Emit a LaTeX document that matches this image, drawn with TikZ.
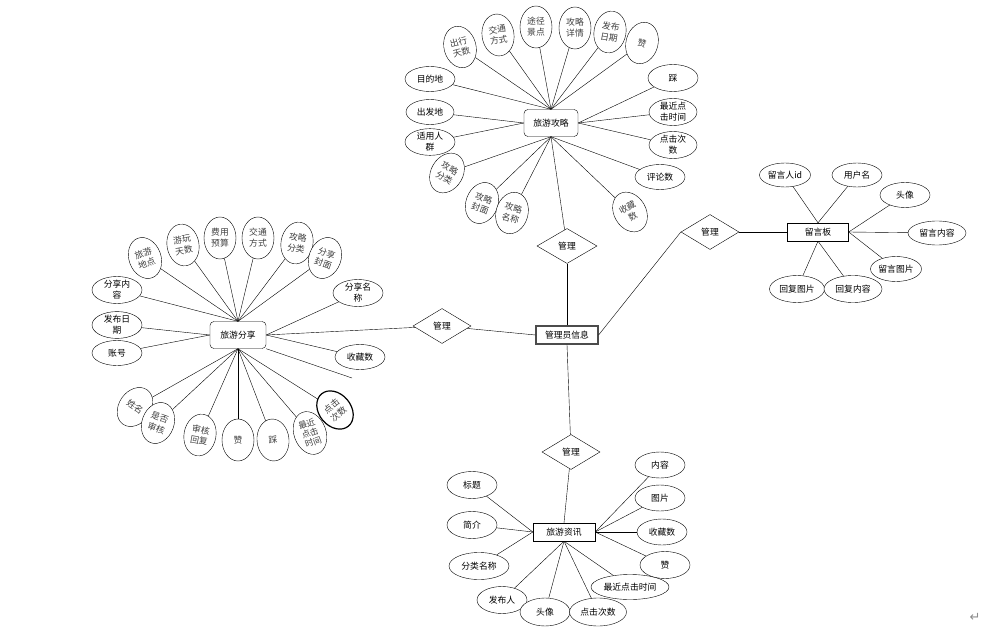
\documentclass[tikz,border=0pt]{standalone}
\usepackage{fontspec}
\newfontfamily\cjk{Noto Sans CJK SC}
\newfontfamily\retfont{DejaVu Sans}
\usetikzlibrary{shapes.geometric,positioning}

\begin{document}
\begin{tikzpicture}[x=1pt,y=-1pt,font=\cjk\fontsize{8.8}{10.8}\selectfont,
    entity/.style={draw,minimum width=62,minimum height=18,inner sep=1pt},
    roundEntity/.style={entity,rounded corners=4pt,minimum width=54,minimum height=27},
    attr/.style={draw,ellipse,fill=white,minimum width=50,minimum height=25,inner sep=0pt,align=center},
    tallAttr/.style={attr,minimum width=32,minimum height=42,text=black!75},
    relation/.style={draw,diamond,fill=white,minimum width=60,minimum height=35,inner sep=0pt}]
    \useasboundingbox (0,0) rectangle (996,631);

    % entities and relations
    \node [roundEntity] (guideNode) at (551,123) {旅游攻略};
    \node [roundEntity,minimum width=56] (shareNode) at (238,335) {旅游分享};
    \node [entity,draw=black!70,line width=1.2pt] (adminNode) at (567,335) {管理员信息};
    \node [entity] (newsNode) at (564,532) {旅游资讯};
    \node [entity,minimum width=61] (boardNode) at (818,232) {留言板};

    \node [relation] (relGuide) at (567,246) {管理};
    \node [relation,minimum width=58] (relShare) at (442,326) {管理};
    \node [relation,minimum width=58] (relNews) at (571,452) {管理};
    \node [relation,minimum width=58] (relBoard) at (710,232) {管理};

    % 旅游攻略
    \node [tallAttr,rotate=15] (gDays) at (460,47) {出行\\天数};
    \node [tallAttr,rotate=8] (gTraffic) at (498,35) {交通\\方式};
    \node [tallAttr] (gRoute) at (536,27) {途径\\景点};
    \node [tallAttr] (gDetail) at (575,28) {攻略\\详情};
    \node [tallAttr,rotate=-10] (gDate) at (610,32) {发布\\日期};
    \node [tallAttr,rotate=-15] (gLike) at (642,43) {赞};
    \node [attr] (gDest) at (430,79) {目的地};
    \node [attr,minimum width=48] (gStart) at (430,112) {出发地};
    \node [attr] (gCrowd) at (430,142) {适用人\\群};
    \node [tallAttr,rotate=-30] (gType) at (447,173) {攻略\\分类};
    \node [tallAttr,rotate=-20] (gCover) at (482,203) {攻略\\封面};
    \node [tallAttr,rotate=-15] (gName) at (512,213) {攻略\\名称};
    \node [tallAttr,rotate=30] (gFav) at (630,212) {收藏\\数};
    \node [attr] (gComment) at (660,177) {评论数};
    \node [attr,minimum width=48,minimum height=27] (gClickNum) at (673,145) {点击次\\数};
    \node [attr,minimum width=48,minimum height=27] (gRecent) at (673,112) {最近点\\击时间};
    \node [attr,minimum height=27] (gDislike) at (673,78) {踩};

    % 旅游分享
    \node [tallAttr,rotate=20] (sPlace) at (145,258) {旅游\\地点};
    \node [tallAttr,rotate=10] (sDays) at (183,245) {游玩\\天数};
    \node [tallAttr] (sBudget) at (220,238) {费用\\预算};
    \node [tallAttr] (sTraffic) at (258,238) {交通\\方式};
    \node [tallAttr,rotate=-10] (sType) at (297,243) {攻略\\分类};
    \node [tallAttr,rotate=-20] (sCover) at (325,258) {分享\\封面};
    \node [attr,minimum height=27] (sContent) at (117,290) {分享内\\容};
    \node [attr,minimum height=27] (sName) at (358,293) {分享名\\称};
    \node [attr,minimum height=26] (sDate) at (117,325) {发布日\\期};
    \node [attr] (sAccount) at (117,353) {账号};
    \node [attr] (sFav) at (360,357) {收藏数};
    \node [tallAttr,rotate=-35] (sUser) at (135,407) {姓名};
    \node [tallAttr,rotate=-20] (sAudit) at (158,423) {是否\\审核};
    \node [tallAttr,rotate=-10] (sReply) at (200,435) {审核\\回复};
    \node [tallAttr] (sLike) at (238,440) {赞};
    \node [tallAttr,rotate=5] (sDislike) at (273,440) {踩};
    \node [tallAttr,rotate=20,minimum height=44,font=\cjk\fontsize{8.5}{9.6}\selectfont] (sRecent) at (310,433) {最近\\点击\\时间};
    \node [tallAttr,rotate=40,line width=1.2pt] (sClick) at (335,410) {点击\\次数};
    \coordinate (sLoose) at (352,378);

    % 旅游资讯
    \node [attr,minimum height=27] (nTitle) at (472,485) {标题};
    \node [attr,minimum height=27] (nIntro) at (472,525) {简介};
    \node [attr,minimum width=60,minimum height=27] (nType) at (479,566) {分类名称};
    \node [attr,minimum width=78] (nRecent) at (630,587) {最近点击时间};
    \node [attr,minimum height=27] (nAuthor) at (502,600) {发布人};
    \node [attr,minimum height=28] (nAvatar) at (545,612) {头像};
    \node [attr,minimum width=57,minimum height=28] (nClick) at (598,612) {点击次数};
    \node [attr,minimum height=27] (nLike) at (665,565) {赞};
    \node [attr,minimum height=26] (nFav) at (662,532) {收藏数};
    \node [attr,minimum height=26] (nPic) at (660,498) {图片};
    \node [attr,minimum height=26] (nContent) at (660,465) {内容};

    % 留言板
    \node [attr,minimum width=51,minimum height=24] (bUserId) at (785,175) {留言人id};
    \node [attr,minimum height=24] (bUserName) at (857,175) {用户名};
    \node [attr] (bAvatar) at (905,195) {头像};
    \node [attr,minimum width=58,minimum height=24] (bContent) at (937,233) {留言内容};
    \node [attr,minimum width=51] (bPic) at (896,269) {留言图片};
    \node [attr,minimum width=55,minimum height=27] (bReplyPic) at (797,289) {回复图片};
    \node [attr,minimum width=58,minimum height=27] (bReplyText) at (853,289) {回复内容};

    % connectors
    \foreach \a in {gDays,gTraffic,gRoute,gDetail,gDate,gLike,gDest}
        \draw (guideNode.north) -- (\a);
    \foreach \a in {gStart,gCrowd}
        \draw (guideNode.west) -- (\a);
    \foreach \a in {gDislike,gRecent,gClickNum}
        \draw (guideNode.east) -- (\a);
    \foreach \a in {gType,gCover,gName,gFav,gComment,relGuide}
        \draw (guideNode.south) -- (\a);

    \foreach \a in {sPlace,sDays,sBudget,sTraffic,sType,sCover,sContent}
        \draw (shareNode.north) -- (\a);
    \foreach \a in {sDate,sAccount}
        \draw (shareNode.west) -- (\a);
    \foreach \a in {sName,sFav,relShare}
        \draw (shareNode.east) -- (\a);
    \draw (shareNode.south east) -- (sLoose);
    \foreach \a in {sUser,sAudit,sReply,sLike,sDislike,sRecent,sClick}
        \draw (shareNode.south) -- (\a);

    \foreach \a in {nTitle,nIntro,nType}
        \draw (newsNode.west) -- (\a);
    \foreach \a in {nContent,nPic,nFav,nLike}
        \draw (newsNode.east) -- (\a);
    \foreach \a in {nRecent,nAuthor,nAvatar,nClick}
        \draw (newsNode.south) -- (\a);
    \draw (relNews) -- (newsNode.north);

    \foreach \a in {bUserId,bUserName}
        \draw (boardNode.north) -- (\a);
    \foreach \a in {bAvatar,bContent,bPic}
        \draw (boardNode.east) -- (\a);
    \foreach \a in {bReplyPic,bReplyText}
        \draw (boardNode.south) -- (\a);

    \draw (adminNode.north) -- (relGuide);
    \draw (adminNode.west) -- (relShare);
    \draw (adminNode.south) -- (relNews);
    \draw (adminNode.east) -- (relBoard.west);
    \draw (relBoard) -- (boardNode);

    \node [text=black!45,font=\retfont\fontsize{13}{13}\selectfont] (retMark) at (975,617) {↵};
\end{tikzpicture}
\end{document}
